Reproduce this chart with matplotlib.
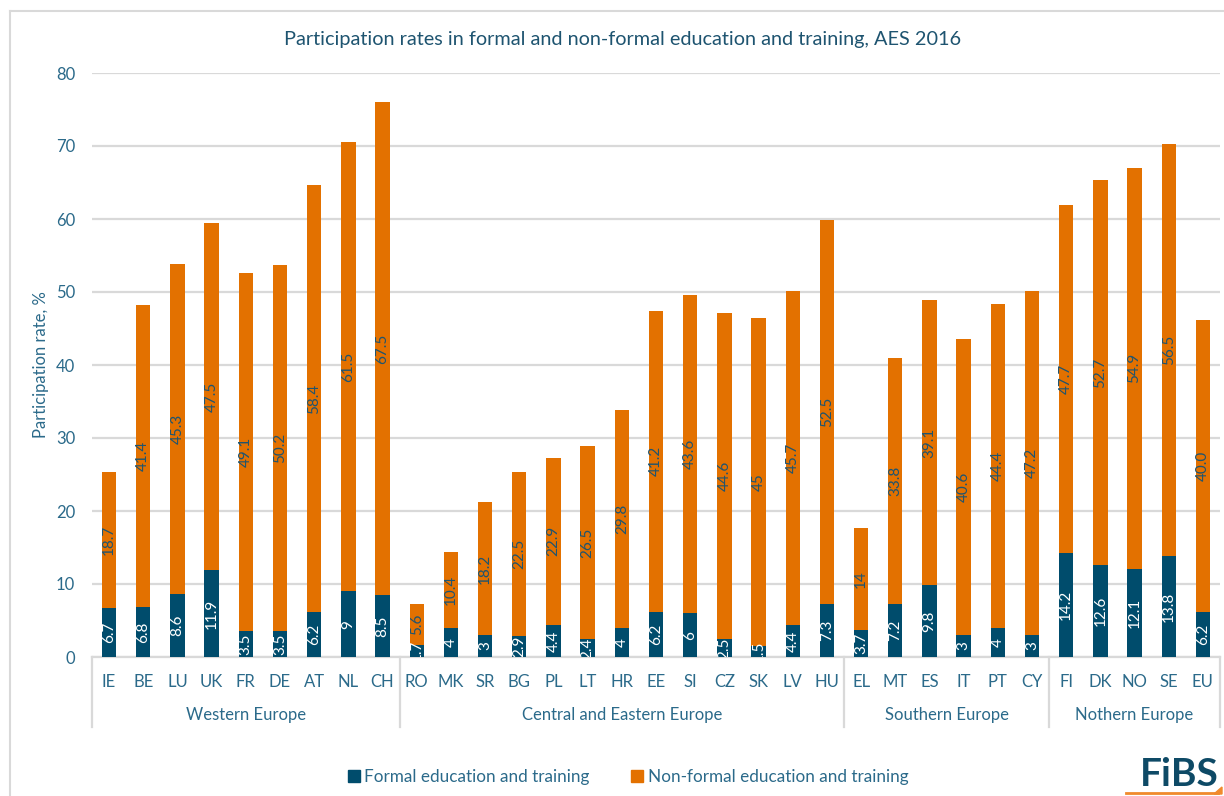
import matplotlib
matplotlib.use("Agg")
from matplotlib import pyplot as plt
from matplotlib.lines import Line2D
from matplotlib.patches import Polygon
import numpy as np

plt.rcParams['font.family'] = ['Lato', 'DejaVu Sans']

countries = ["IE", "BE", "LU", "UK", "FR", "DE", "AT", "NL", "CH",
             "RO", "MK", "SR", "BG", "PL", "LT", "HR", "EE", "SI", "CZ", "SK", "LV", "HU",
             "EL", "MT", "ES", "IT", "PT", "CY",
             "FI", "DK", "NO", "SE", "EU"]
formal = [6.7, 6.8, 8.6, 11.9, 3.5, 3.5, 6.2, 9, 8.5,
          1.7, 4, 3, 2.9, 4.4, 2.4, 4, 6.2, 6, 2.5, 1.5, 4.4, 7.3,
          3.7, 7.2, 9.8, 3, 4, 3,
          14.2, 12.6, 12.1, 13.8, 6.2]
nonformal = [18.7, 41.4, 45.3, 47.5, 49.1, 50.2, 58.4, 61.5, 67.5,
             5.6, 10.4, 18.2, 22.5, 22.9, 26.5, 29.8, 41.2, 43.6, 44.6, 45, 45.7, 52.5,
             14, 33.8, 39.1, 40.6, 44.4, 47.2,
             47.7, 52.7, 54.9, 56.5, 40.0]
groups = ["Western Europe", "Central and Eastern Europe", "Southern Europe", "Nothern Europe"]
group_sizes = [9, 13, 6, 5]

navy = "#004C6C"
orange = "#E37100"
txt = "#2B6A8A"
grid = "#D9D9D9"

fig = plt.figure(figsize=(12.24, 7.96), dpi=100)
ax = fig.add_axes([92 / 1224, 1 - 657 / 796, 1128 / 1224, 584 / 796])

x = np.arange(len(countries))
w = 0.42
ax.bar(x, formal, w, color=navy, zorder=3)
ax.bar(x, nonformal, w, bottom=formal, color=orange, zorder=3)

# data labels
nf_text = [f"{v:g}" for v in nonformal]
nf_text[-1] = "40.0"
for i in range(len(x)):
    ax.text(x[i], formal[i] / 2, f"{formal[i]:g}", rotation=90, ha="center", va="center",
            color="white", fontsize=11, zorder=4, clip_on=True)
    ax.text(x[i], formal[i] + nonformal[i] / 2, nf_text[i], rotation=90, ha="center",
            va="center", color="#1E5470", fontsize=11, zorder=4)

ax.set_xlim(-0.5, len(x) - 0.5)
ax.set_ylim(0, 80)
ax.set_yticks(range(0, 81, 10))
ax.yaxis.grid(True, color=grid, linewidth=1.6, zorder=0)
ax.set_axisbelow(True)
for s in ["top", "right", "left"]:
    ax.spines[s].set_visible(False)
ax.spines["bottom"].set_color(grid)
ax.spines["bottom"].set_linewidth(1.6)
ax.tick_params(axis="y", length=0, pad=12, labelsize=12, labelcolor=txt)
ax.set_xticks(x)
ax.set_xticklabels(countries)
ax.tick_params(axis="x", length=0, pad=12, labelsize=12, labelcolor=txt)
ax.set_ylabel("Participation rate, %", fontsize=12, color=txt, labelpad=5)

# group labels and separators
trans = ax.get_xaxis_transform()
edges = np.concatenate([[0], np.cumsum(group_sizes)]) - 0.5
for e in edges:
    ax.plot([e, e], [0, -70 / 584], transform=trans, color=grid, lw=1.6, clip_on=False)
for g, a, b in zip(groups, edges[:-1], edges[1:]):
    ax.text((a + b) / 2, -58 / 584, g, transform=trans, ha="center", va="center",
            fontsize=12, color=txt)

fig.text(623 / 1224, 1 - 40 / 796, "Participation rates in formal and non-formal education and training, AES 2016",
         ha="center", va="center", fontsize=14.3, color="#1E5470")

# legend
handles = [Line2D([], [], marker="s", linestyle="none", color=navy, markersize=8),
           Line2D([], [], marker="s", linestyle="none", color=orange, markersize=8)]
fig.legend(handles, ["Formal education and training", "Non-formal education and training"],
           loc="center", bbox_to_anchor=(626 / 1224, 1 - 777 / 796), ncol=2, frameon=False,
           fontsize=12.3, labelcolor=txt, handletextpad=0.0, columnspacing=2.2,
           handlelength=1.2)

# frame lines
fig.add_artist(Line2D([10 / 1224, 10 / 1224], [0, 1 - 11 / 796], color=grid, lw=1.5))
fig.add_artist(Line2D([10 / 1224, 1], [1 - 11 / 796, 1 - 11 / 796], color=grid, lw=1.5))

# logo
fig.text(1219 / 1224, 1 - 775 / 796, "FiBS", ha="right", va="center", fontsize=28,
         fontweight="bold", color="#0E4A66")
fig.add_artist(Line2D([1126 / 1224, 1218 / 1224], [1 - 793 / 796, 1 - 793 / 796],
                      color="#F08A2C", lw=2))
fig.add_artist(Polygon([[1214 / 1224, 1 - 794 / 796], [1222 / 1224, 1 - 787 / 796],
                        [1222 / 1224, 1 - 794 / 796]], closed=True, color="#F08A2C",
                       transform=fig.transFigure))

fig.savefig("out.png", dpi=100)
